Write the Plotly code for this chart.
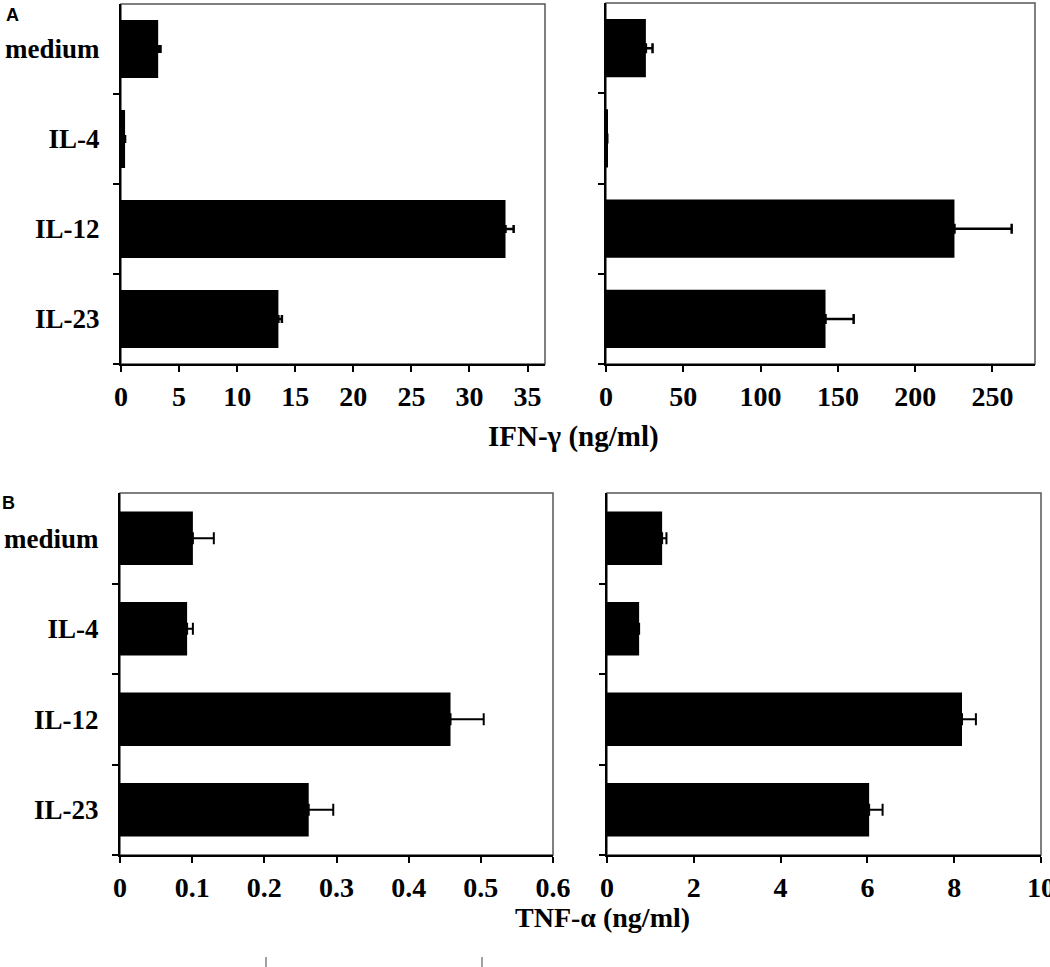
import plotly.graph_objects as go

# ---------------- data ----------------
categories = ["medium", "IL-4", "IL-12", "IL-23"]

ifn_a = [3.2, 0.35, 33.1, 13.55]
ifn_a_err = [0.2, None, 0.7, 0.3]
ifn_b = [25.8, 0.8, 225.4, 142.0]
ifn_b_err = [4.3, None, 37.0, 18.2]

tnf_a = [0.101, 0.093, 0.458, 0.2615]
tnf_a_err = [0.029, 0.008, 0.046, 0.034]
tnf_b = [1.27, 0.74, 8.18, 6.04]
tnf_b_err = [0.10, None, 0.32, 0.31]

ifn_a_ticks = [0, 5, 10, 15, 20, 25, 30, 35]
ifn_b_ticks = [0, 50, 100, 150, 200, 250]
tnf_a_ticks = [0, 0.1, 0.2, 0.3, 0.4, 0.5, 0.6]
tnf_a_labels = ["0", "0.1", "0.2", "0.3", "0.4", "0.5", "0.6"]
tnf_b_ticks = [0, 2, 4, 6, 8, 10]

ifn_title = "IFN-\u03b3 (ng/ml)"
tnf_title = "TNF-\u03b1 (ng/ml)"

# ---------------- layout parameters ----------------
W, H = 1050, 967
SERIF = "Liberation Serif"
idx = list(range(len(categories)))
bounds = [i + 0.5 for i in idx]

def px_x(a, b):
    return [a / W, b / W]

def px_y(top, bottom):
    return [1 - bottom / H, 1 - top / H]

panels = [
    # values, errors, x-range, tickvals, ticktext, xdomain, ydomain, show labels, bar width, err thickness, cap
    (ifn_a, ifn_a_err, [0, 36.5], ifn_a_ticks, [str(t) for t in ifn_a_ticks], px_x(121, 545), px_y(4, 364), True, 0.645, 2.5, 4),
    (ifn_b, ifn_b_err, [0, 277.5], ifn_b_ticks, [str(t) for t in ifn_b_ticks], px_x(606, 1035), px_y(3, 364), False, 0.645, 2.5, 5),
    (tnf_a, tnf_a_err, [0, 0.6], tnf_a_ticks, tnf_a_labels, px_x(120, 553), px_y(493, 855), True, 0.59, 2, 6),
    (tnf_b, tnf_b_err, [0, 10], tnf_b_ticks, [str(t) for t in tnf_b_ticks], px_x(607, 1041), px_y(493, 855), False, 0.59, 2, 6),
]

fig = go.Figure()
layout = dict(
    template="none",
    width=W, height=H, margin=dict(l=0, r=0, t=0, b=0, pad=0),
    paper_bgcolor="white", plot_bgcolor="white", showlegend=False,
    shapes=[], annotations=[],
)

for k, (vals, errs, xr, tv, tt, xd, yd, showlab, bw, eth, cap) in enumerate(panels, start=1):
    sx = "" if k == 1 else str(k)
    fig.add_trace(go.Bar(
        x=vals, y=idx, orientation="h", width=bw,
        marker=dict(color="black", line=dict(width=0)),
        error_x=dict(type="data", symmetric=False, array=errs,
                     arrayminus=[0] * len(vals), color="black",
                     thickness=eth, width=cap),
        xaxis="x" + sx, yaxis="y" + sx,
    ))
    layout["xaxis" + sx] = dict(
        domain=xd, anchor="y" + sx, range=xr, automargin=False,
        tickmode="array", tickvals=tv, ticktext=tt,
        ticks="outside", ticklen=6, tickwidth=2, tickcolor="black",
        ticklabeloverflow="allow",
        showline=True, linecolor="black", linewidth=2,
        showgrid=False, zeroline=False,
        tickfont=dict(family=SERIF, size=28, color="black", weight="bold"),
    )
    layout["yaxis" + sx] = dict(
        domain=yd, anchor="x" + sx, range=[3.5, -0.5], automargin=False,
        tickmode="array", tickvals=idx, ticktext=categories,
        showticklabels=showlab, ticks="outside", ticklen=0,
        tickcolor="rgba(0,0,0,0)", ticklabelstandoff=14,
        ticklabeloverflow="allow",
        minor=dict(tickmode="array", tickvals=bounds, ticks="outside",
                   ticklen=6, tickwidth=2, tickcolor="black", showgrid=False),
        showline=True, linecolor="black", linewidth=2,
        showgrid=False, zeroline=False,
        tickfont=dict(family=SERIF, size=27, color="black", weight="bold"),
    )
    layout["shapes"].append(dict(
        type="rect", xref="x" + sx + " domain", yref="y" + sx + " domain",
        x0=0, x1=1, y0=0, y1=1, line=dict(color="#555555", width=1.5),
        layer="below",
    ))

# axis titles (shared between panels) and panel letters
layout["annotations"] += [
    dict(text=ifn_title, x=573 / W, y=1 - 437 / H, xref="paper", yref="paper",
         xanchor="center", yanchor="middle",
         showarrow=False, font=dict(family=SERIF, size=29, color="black", weight="bold")),
    dict(text=tnf_title, x=602 / W, y=1 - 917 / H, xref="paper", yref="paper",
         xanchor="center", yanchor="middle",
         showarrow=False, font=dict(family=SERIF, size=28, color="black", weight="bold")),
    dict(text="A", x=4 / W, y=1 - 3 / H, xref="paper", yref="paper", xanchor="left", yanchor="top",
         showarrow=False, font=dict(family="Liberation Sans", size=18, color="black", weight="bold")),
    dict(text="B", x=0 / W, y=1 - 491 / H, xref="paper", yref="paper", xanchor="left", yanchor="top",
         showarrow=False, font=dict(family="Liberation Sans", size=18, color="black", weight="bold")),
]
# small crop residue marks at the bottom edge
for xp in (266, 482):
    layout["shapes"].append(dict(type="line", xref="paper", yref="paper",
                                 x0=xp / W, x1=xp / W, y0=0, y1=10 / H,
                                 line=dict(color="#444444", width=1)))

fig.update_layout(**layout)
fig.write_html("out.html", config={"displayModeBar": False},
               post_script="document.body.style.margin='0px';document.body.style.padding='0px';")
